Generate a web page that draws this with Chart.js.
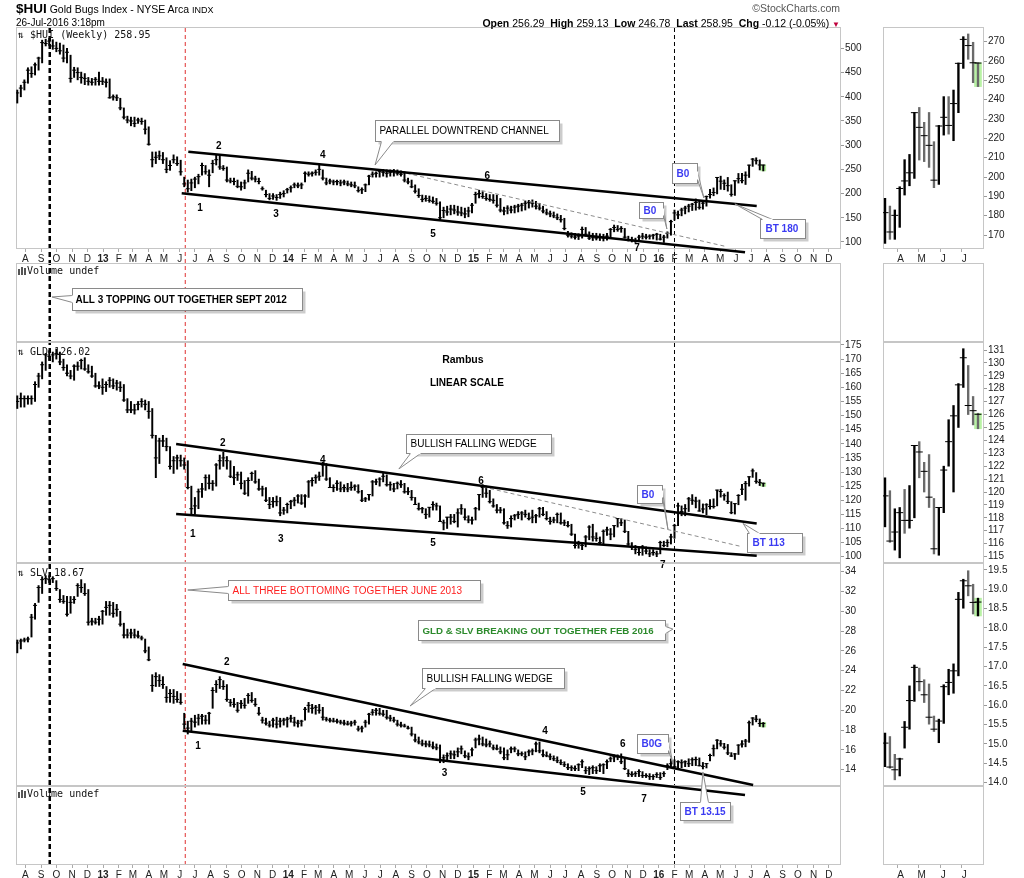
<!DOCTYPE html>
<html>
<head>
<meta charset="utf-8">
<title>$HUI Gold Bugs Index</title>
<script src="https://cdn.jsdelivr.net/npm/chart.js@4.4.1/dist/chart.umd.min.js"></script>
<style>
  html, body { margin: 0; padding: 0; background: #fff; }
  body { position: relative; width: 1024px; height: 878px; overflow: hidden;
         font-family: "Liberation Sans", Arial, sans-serif; color: #000; }
  canvas { position: absolute; }
  .txt { position: absolute; white-space: nowrap; line-height: 1; z-index: 5; }
  .mono { font-family: "DejaVu Sans Mono", monospace; font-size: 10px; color: #111; }
  .vi { display: inline-block; width: 2px; background: #555; margin-right: 1px; vertical-align: -1px; }
</style>
</head>
<body>

<div class="txt" style="left:16px;top:2px;font-size:10.5px"><b style="font-size:13.5px">$HUI</b> Gold Bugs Index - NYSE Arca <span style="font-size:9px">INDX</span></div>
<div class="txt" style="left:16px;top:18px;font-size:10px">26-Jul-2016 3:18pm</div>
<div class="txt" style="right:184px;top:3px;font-size:10.5px;color:#555">&copy;StockCharts.com</div>
<div class="txt" style="right:184px;top:18px;font-size:10.5px"><b>Open</b> 256.29 &nbsp;<b>High</b> 259.13 &nbsp;<b>Low</b> 246.78 &nbsp;<b>Last</b> 258.95 &nbsp;<b>Chg</b> -0.12 (-0.05%) <span style="color:#c0003c;font-size:8px">&#9660;</span></div>

<div class="txt mono" style="left:18px;top:30px">&#8645; $HUI (Weekly) 258.95</div>
<div class="txt mono" style="left:18px;top:266px"><span class="vi" style="height:6px"></span><span class="vi" style="height:8px"></span><span class="vi" style="height:7px"></span>Volume undef</div>
<div class="txt mono" style="left:18px;top:347px">&#8645; GLD 126.02</div>
<div class="txt mono" style="left:18px;top:568px">&#8645; SLV 18.67</div>
<div class="txt mono" style="left:18px;top:789px"><span class="vi" style="height:6px"></span><span class="vi" style="height:8px"></span><span class="vi" style="height:7px"></span>Volume undef</div>

<canvas id="guides" width="870" height="878" style="left:0;top:0;z-index:1"></canvas>
<canvas id="vol1" width="870" height="79" style="left:0;top:263px;z-index:2"></canvas>
<canvas id="vol2" width="870" height="92" style="left:0;top:786px;z-index:2"></canvas>
<canvas id="hui" width="870" height="236" style="left:0;top:27px;z-index:3"></canvas>
<canvas id="gld" width="870" height="235" style="left:0;top:336px;z-index:3"></canvas>
<canvas id="slv" width="870" height="276" style="left:0;top:557px;z-index:3"></canvas>

<canvas id="mhui" width="147" height="236" style="left:877px;top:27px;z-index:3"></canvas>
<canvas id="mvol1" width="147" height="79" style="left:877px;top:263px;z-index:2"></canvas>
<canvas id="mgld" width="147" height="227" style="left:877px;top:336px;z-index:3"></canvas>
<canvas id="mslv" width="147" height="229" style="left:877px;top:557px;z-index:3"></canvas>
<canvas id="mvol2" width="147" height="92" style="left:877px;top:786px;z-index:2"></canvas>

<script>
// weekly bars, first week starting 16-Jul-2012, last week 25-Jul-2016
const huiHigh = [
  414,424,435,460,462,470,482,517,519,521, 518,513,511,507,500,486,461,460,451,448,
  440,438,440,451,440,437,437,404,404,397, 377,360,358,358,356,356,352,338,286,286,
  288,285,274,268,280,276,269,234,228,230, 234,240,263,258,249,269,280,278,258,255,
  232,232,228,224,228,249,246,236,232,214, 207,200,200,198,203,206,211,216,222,222,
  222,245,245,245,249,261,249,232,230,228, 228,228,228,226,224,224,214,212,220,238,
  245,245,249,250,249,249,250,249,247,245, 232,228,218,210,197,196,195,193,190,183,
  172,174,176,176,174,172,170,172,180,203, 207,204,200,198,198,197,190,172,175,174,
  176,178,180,184,186,187,184,180,174,168, 164,162,158,155,149,122,119,118,117,131,
  130,121,118,118,117,116,118,128,135,134, 132,128,112,110,108,114,118,116,115,116,
  118,116,114,121,145,166,164,170,174,178, 180,189,185,183,195,209,211.7,233.4,236,228.3,
  233.4,218.3,226.7,241.6,241.6,245,259,272.6,274,269.7, 259.13
];
const huiLow = [
  387,400,414,428,440,445,455,470,505,506, 498,493,488,472,470,430,440,435,428,425,
  424,424,424,424,425,420,397,393,392,373, 354,346,340,338,345,343,323,300,255,262,
  270,262,243,248,263,258,238,214,203,206, 212,220,238,240,214,243,259,250,248,224,
  222,218,212,207,210,224,228,224,220,207, 193,187,188,186,190,193,201,203,212,212,
  210,224,236,236,238,238,228,218,220,218, 218,216,218,216,214,212,203,200,204,218,
  234,234,234,236,234,236,236,238,236,224, 220,212,201,192,183,184,182,180,176,145,
  150,155,156,158,155,154,150,152,160,180, 191,190,186,184,180,172,162,156,158,160,
  160,162,164,166,170,172,168,166,160,156, 152,150,146,141,125,110,108,106,105,108,
  112,105,103,104,103,102,104,111,121,122, 120,108,102,100,99,102,106,106,106,106,
  104,104,99,108,114,145,148,154,158,162, 165,165.7,167.8,167.8,174,190.7,195.5,199.3,208.8,208,
  205,194.5,196.2,221.7,222.2,218.8,233.3,256.2,260.9,248.8, 246.78
];
const huiClose = [
  408,418,430,455,448,466,480,512,510,515, 505,500,495,480,492,438,455,450,440,438,
  432,430,436,432,432,430,398,400,398,377, 358,352,350,345,352,349,333,302,270,275,
  278,270,250,258,270,262,245,220,210,222, 230,235,258,245,238,262,270,255,252,228,
  226,225,215,214,222,242,232,230,225,210, 198,190,195,192,198,200,208,212,218,216,
  218,242,240,242,244,250,232,222,226,224, 225,222,224,220,218,216,206,208,218,236,
  240,242,246,244,242,244,245,242,240,228, 224,214,205,196,188,190,186,184,180,150,
  165,162,168,166,162,160,158,164,176,198, 200,194,190,188,186,176,166,164,170,166,
  172,174,176,180,182,180,174,170,164,160, 158,154,150,146,128,114,112,110,112,126,
  116,108,110,108,110,108,112,126,130,126, 128,110,104,104,102,110,112,110,112,114,
  116,106,110,118,142,160,156,166,170,174, 178,181.6,171.6,180.2,194.1,198,202.2,233.3,225.7,221.4,
  216.4,198.4,226.4,230.9,226.7,238,258.8,271.2,268,259.1, 258.95
];

const gldHigh = [
  157,158,157,157,157,162,165,169,172,173, 172.5,173.5,172.5,170,168,166,168,169,170,170.5,
  168,167.5,165,162,163,162,163.5,163,162.5,162, 161,156,155,154,155,156,155.5,155,152.5,143,
  142,143,142,139,135.5,136,136,135,134,125, 121,124,126,129,129,127,133,136,137,135.5,
  134,132,130,130,127,128,130,130.5,127.5,125, 124.5,121,121,121.5,121,117.5,119,120,121,122,
  122,122,127,128,129,130,133.5,133,128,125.5, 127,126.5,125.5,126,126.5,125.5,125.5,123.5,121,122,
  127,127.5,128,129.5,129,126.5,126,126.5,127,126, 124.5,123.5,121,119,117.5,117,117.5,119.5,119,118,
  113,114,115,115,117,118.5,117,114.5,114,117.5, 122,125.5,125,123.5,120.5,118.5,117.5,117,112.5,114.5,
  115,116,116,116.5,115.5,116.5,115,117.5,117.5,116, 114,114,115.5,115.5,113,112.5,111.5,108,105.5,105,
  107.5,111,111.5,108.5,107,109.5,110.5,110,111,113.5, 113.5,113,109,105,104,103.5,104,103.5,102.5,102.5,
  102,105.5,105.5,106,108,111.5,119,118,118.5,121, 122,121.1,120.1,118.7,118.8,120.2,120.5,123.6,123.9,122.3,
  122.9,119.5,118.8,122,125.6,126.7,128.4,131.1,129.8,127.4, 126.1
];
const gldLow = [
  152.5,153,153,154,154,155,160,163,166,169.5, 169,170,168,166,164,163,162.5,166,166.5,166,
  165,163.5,160,159.5,157.5,158.5,160,159.5,159,158.5, 155,151,151,150.5,152,153,152,149,142,128,
  133,139,137.5,131,129.5,131,132,131,124,115, 115,117,121,123.5,124,123.5,125,131,132,131,
  128,125.5,127,124,122,121.5,127,126,123.5,121.5, 119.5,117,117.5,118,114.5,115,115.5,117,118,119,
  118.5,117.5,121,125,126,127,128.5,127,124.5,123, 123.5,123,123,123,123.5,123.5,122.5,119.5,119.5,120,
  121.5,125.5,125,126.5,125,123.5,123,124,124.5,122.5, 122,120,118.5,116.5,115.5,113.5,114,116.5,116.5,112.5,
  109.5,110,111.5,112,110.5,115,113,112,111.5,113, 116.5,121,121,119,117.5,115.5,115.5,111.5,110,110.5,
  113,113.5,113,114,113,112,112,114,114.5,113, 111.5,112,112,111.5,111,110.5,107.5,103,103,102.5,
  103.5,106,105.5,105.5,104.5,104.5,107.5,106,107,110.5, 111,108.5,104,102.5,101,100.5,100.5,101,100,100.5,
  100,101,103.5,103.5,104.5,106.5,111,114.5,114.5,116, 118.5,117.3,116.1,115.5,114.9,116.8,117.2,118,121.1,120,
  118.8,115.2,115.1,118.4,122,120,125,128.1,126,125.2, 124.9
];
const gldClose = [
  155,156,156,156,156,161,164,168,171.5,171, 171.5,172,169,167,165,164,167.5,167.5,169.5,166.5,
  165.5,164,160.5,160.5,160,161,162.5,160.5,161.5,160, 155.5,152,152,152,154,155,154,151.5,143,135,
  141,141,139,132,134,135,134,132.5,124.5,117, 118,123,124,128,126,126,132.5,134,135,134,
  128.5,128,129,126,122.5,127,129.5,126.5,124,124, 120,118.5,119.5,119.5,115.5,116.5,118.5,119.5,120,121.5,
  119,121.5,126.5,127,128,128.5,132.5,127.5,124.5,124.5, 126,124,124.5,124,124.5,125,123,120,120.5,122,
  126.5,126.5,127.5,128.5,125.5,125.5,124,126,125.5,123, 123,121,118.5,117,117,115,117.5,118.5,118,112.5,
  112,114,114,112.5,115.5,117,114,113,113,117, 122,124.5,122.5,119.5,118,116.5,116.5,112,111,113.5,
  114.5,115,115.5,115,113.5,114,114.5,117,115,113.5, 112.5,113,115,112,112,111,108,104,104.5,104,
  107,110.5,107,106.5,105,109,109.5,108,111,113.5, 112,109,104.5,103.5,102.5,101.5,103.5,102,101,101.5,
  101,105,104,105,107,111,118,116,117,120.5, 120,119.7,116.2,116.9,118.4,117.8,117.8,123.6,123.1,121.6,
  119.6,115.6,118.8,121.7,123.9,125.9,128.3,130.4,126.7,126.3, 126.02
];

const slvHigh = [
  27.1,27.2,27.3,27.4,29.7,30.8,32.6,33.5,33.6,33.6, 33.5,33.1,32.2,31.6,31.5,31.5,31.5,32.8,33.2,32.8,
  32.2,29.3,29.3,29.5,30.1,31.0,31.0,30.9,30.7,30.0, 28.8,28.2,28.2,28.2,28.0,27.5,27.2,26.4,23.6,23.8,
  23.6,23.4,22.4,22.1,22.1,21.9,21.7,19.7,18.9,19.2, 19.5,19.6,19.6,19.5,19.8,22.3,23.0,23.4,23.0,22.6,
  21.1,21.2,20.8,21.0,21.2,21.7,21.8,21.2,20.3,19.3, 19.2,18.9,19.2,19.3,19.2,19.2,19.3,19.5,19.3,19.0,
  19.0,20.3,20.8,20.6,20.5,20.6,20.3,19.3,19.2,19.2, 19.1,19.0,19.0,18.9,18.9,19.0,18.4,18.4,19.0,19.7,
  20.1,20.2,20.2,20.0,20.0,19.5,19.3,19.0,18.8,18.6, 18.4,18.3,17.6,17.3,17.0,16.9,16.9,16.8,16.6,16.5,
  15.5,15.7,15.9,15.9,16.2,16.4,15.9,15.7,16.2,17.2, 17.5,17.3,17.1,16.9,16.5,16.5,16.3,16.2,16.0,16.3,
  16.3,16.0,15.8,15.8,16.0,16.1,16.8,16.8,16.0,15.8, 15.6,15.4,15.3,15.0,14.8,14.6,14.4,14.4,14.6,15.0,
  14.3,14.3,14.4,14.3,14.6,14.6,15.0,15.3,15.5,15.5, 15.6,15.1,14.0,13.8,13.8,14.0,13.8,13.6,13.6,13.5,
  13.7,13.7,13.8,14.6,15.1,15.0,14.9,15.0,14.9,15.1, 15.2,15.28,15.19,14.73,14.63,15.58,16.5,17.04,16.96,16.66,
  16.55,15.72,15.64,16.53,16.93,17.07,18.92,19.26,19.48,19.13, 18.77
];
const slvLow = [
  25.8,26.2,26.9,26.9,27.4,29.2,30.9,31.8,32.8,32.9, 32.9,32.1,30.9,30.8,29.5,29.8,30.8,31.5,31.9,31.6,
  28.6,28.6,28.7,28.6,28.7,29.6,29.6,29.4,29.5,28.5, 27.3,27.3,27.3,27.3,27.3,27.1,25.8,25.0,21.9,22.4,
  22.4,22.2,20.8,20.8,20.7,20.8,20.6,18.1,17.6,17.9, 18.3,18.5,18.6,18.6,18.6,20.2,21.8,22.2,22.1,20.9,
  20.4,20.3,19.8,20.2,20.2,20.7,20.8,20.4,19.5,18.7, 18.5,18.3,18.3,18.2,18.3,18.5,18.3,18.8,18.4,18.3,
  18.4,19.0,19.8,19.7,19.6,19.7,19.0,18.9,18.8,18.8, 18.7,18.6,18.5,18.5,18.4,18.5,17.9,17.8,18.3,18.6,
  19.5,19.5,19.5,19.4,19.1,18.9,18.8,18.4,18.3,18.3, 18.1,17.4,16.8,16.6,16.4,16.3,16.3,16.1,16.0,14.7,
  14.7,14.9,15.1,15.1,15.3,15.6,15.2,15.0,15.4,16.2, 16.5,16.4,16.3,16.3,16.0,16.0,15.6,15.0,15.0,15.7,
  15.8,15.4,15.4,15.0,15.4,15.5,15.8,15.7,15.3,15.3, 15.0,14.9,14.7,14.5,14.3,14.0,13.9,13.9,13.9,14.2,
  13.6,13.5,13.6,13.6,13.8,13.6,14.1,14.8,14.8,15.0, 14.6,14.0,13.3,13.3,13.3,13.3,13.2,13.2,13.0,13.0,
  13.2,13.0,13.3,14.0,14.2,14.2,14.2,14.2,14.3,14.3, 14.4,14.41,14.37,14.07,14.17,14.89,15.38,16.1,16.37,16.07,
  15.51,15.32,15.03,15.53,16.27,16.31,16.76,18.51,18.83,18.36, 18.31
];
const slvClose = [
  26.8,27.0,27.1,27.2,29.4,30.6,32.4,33.2,33.3,33.2, 33.3,32.3,31.2,31.0,29.7,30.9,31.2,32.6,32.4,31.8,
  28.9,29.0,28.9,29.2,30.0,30.4,30.6,29.8,30.2,28.7, 27.6,27.6,27.8,27.6,27.5,27.3,26.0,25.1,22.5,23.4,
  23.0,22.6,21.3,21.7,21.4,21.1,20.8,18.6,18.2,18.9, 18.8,19.2,19.4,19.0,19.7,22.0,22.6,23.1,22.4,21.1,
  20.8,20.6,20.0,20.7,20.5,21.5,21.0,20.6,19.7,19.0, 18.7,18.5,19.0,18.6,18.9,19.0,19.1,19.2,18.8,18.7,
  18.9,20.1,20.5,20.2,20.3,20.0,19.3,19.1,19.0,18.9, 18.9,18.8,18.7,18.6,18.7,18.8,18.1,18.2,18.8,19.6,
  19.8,20.0,19.7,19.6,19.3,19.2,19.0,18.6,18.5,18.4, 18.2,17.6,17.0,16.8,16.6,16.6,16.5,16.3,16.2,15.0,
  15.2,15.4,15.6,15.5,15.8,16.1,15.4,15.3,16.0,17.0, 17.1,16.6,16.5,16.6,16.2,16.1,15.8,15.2,15.5,16.1,
  16.1,15.6,15.6,15.3,15.8,15.9,16.6,15.9,15.5,15.4, 15.3,15.1,14.9,14.7,14.5,14.2,14.2,14.1,14.5,14.8,
  13.9,14.1,14.2,13.9,14.4,14.5,14.8,15.1,15.3,15.3, 14.8,14.1,13.6,13.5,13.6,13.8,13.4,13.4,13.3,13.3,
  13.5,13.2,13.6,14.4,14.6,14.3,14.8,14.7,14.8,14.6, 15.0,15.02,14.4,14.33,14.61,15.43,16.12,16.98,16.61,16.27,
  15.69,15.38,15.59,16.48,16.59,16.89,18.74,19.22,19.09,18.66, 18.67
];

// axis tick labels
const monthLabels = ['A','S','O','N','D','13','F','M','A','M','J','J','A','S','O','N','D',
  '14','F','M','A','M','J','J','A','S','O','N','D','15','F','M','A','M','J','J','A','S','O','N','D',
  '16','F','M','A','M','J','J','A','S','O','N','D'];
const miniMonthLabels = ['A','M','J','J'];
const huiTicks = [100,150,200,250,300,350,400,450,500];
const gldTicks = [100,105,110,115,120,125,130,135,140,145,150,155,160,165,170,175];
const slvTicks = [14,16,18,20,22,24,26,28,30,32,34];
const miniHuiTicks = [170,180,190,200,210,220,230,240,250,260,270];
const miniGldTicks = [115,116,117,118,119,120,121,122,123,124,125,126,127,128,129,130,131];
const miniSlvTicks = [14.0,14.5,15.0,15.5,16.0,16.5,17.0,17.5,18.0,18.5,19.0,19.5];

const DAY = 86400000;
const AXIS_ZERO = Date.UTC(2012, 7, 1);
const dayOf = (y, m, d) => (Date.UTC(y, m, d) - AXIS_ZERO) / DAY;
const firstWeek = dayOf(2012, 6, 16);
const weekDays = huiClose.map((_, i) => firstWeek + 7 * i);
const monthDays = monthLabels.map((_, k) => dayOf(2012, 7 + k, 1));
const miniMonthDays = miniMonthLabels.map((_, k) => dayOf(2016, 3 + k, 1));
const guideDays = [dayOf(2012, 8, 18), dayOf(2013, 5, 12), dayOf(2016, 1, 1)];
const MINI = 20;

Chart.defaults.font.family = '"Liberation Sans", Arial, sans-serif';

const FONT = '"Liberation Sans", Arial, sans-serif';
const BLUE = '#3a3af2';

function drawCallout(ctx, c, xs, ys) {
  const L = Math.round(xs.getPixelForValue(c.x)) + 0.5;
  const T = Math.round(ys.getPixelForValue(c.y)) + 0.5;
  const W = c.w, H = c.h;
  const tx = xs.getPixelForValue(c.tipX), ty = ys.getPixelForValue(c.tipY);
  let b1, b2;
  if (c.side === 'bottom') { b1 = [L + c.at[0], T + H]; b2 = [L + c.at[1], T + H]; }
  else if (c.side === 'top') { b1 = [L + c.at[0], T]; b2 = [L + c.at[1], T]; }
  else if (c.side === 'left') { b1 = [L, T + c.at[0]]; b2 = [L, T + c.at[1]]; }
  else { b1 = [L + W, T + c.at[0]]; b2 = [L + W, T + c.at[1]]; }
  ctx.save();
  ctx.fillStyle = 'rgba(0,0,0,0.2)';
  ctx.fillRect(L + 3, T + 3, W, H);
  ctx.beginPath();
  ctx.moveTo(b1[0], b1[1]); ctx.lineTo(tx, ty); ctx.lineTo(b2[0], b2[1]); ctx.closePath();
  ctx.fillStyle = '#fff'; ctx.fill();
  ctx.strokeStyle = '#8a8a8a'; ctx.lineWidth = 1; ctx.stroke();
  ctx.fillRect(L, T, W, H);
  ctx.strokeRect(L, T, W, H);
  ctx.beginPath(); ctx.moveTo(b1[0], b1[1]); ctx.lineTo(b2[0], b2[1]);
  ctx.strokeStyle = '#fff'; ctx.lineWidth = 1.5; ctx.stroke();
  ctx.font = c.font || ('10px ' + FONT);
  ctx.fillStyle = c.color || '#000';
  ctx.textAlign = 'left'; ctx.textBaseline = 'middle';
  ctx.fillText(c.text, L + (c.pad || 4), T + H / 2 + 0.5);
  ctx.restore();
}

function framePlugin(notes) {
  return {
    id: 'frame',
    beforeDatasetsDraw(chart) {
      const { ctx, chartArea: a } = chart;
      ctx.save();
      ctx.strokeStyle = '#c6c6c6';
      ctx.lineWidth = 1;
      ctx.strokeRect(Math.round(a.left) + 0.5, Math.round(a.top) + 0.5,
        Math.round(a.right - a.left) - 1, Math.round(a.bottom - a.top) - 1);
      ctx.restore();
    },
    afterDatasetsDraw(chart) {
      if (!notes) return;
      const ctx = chart.ctx, xs = chart.scales.x, ys = chart.scales.y;
      (notes.callouts || []).forEach(c => drawCallout(ctx, c, xs, ys));
      (notes.texts || []).forEach(t => {
        ctx.save();
        ctx.font = t.font || ('bold 10px ' + FONT);
        ctx.fillStyle = '#000';
        ctx.textAlign = 'center'; ctx.textBaseline = 'middle';
        ctx.fillText(t.text, xs.getPixelForValue(t.x), ys.getPixelForValue(t.y));
        ctx.restore();
      });
    }
  };
}

function trend(points, dashed) {
  return {
    type: 'line', data: points, order: 0, clip: false,
    borderColor: dashed ? '#8c8c8c' : '#000', borderWidth: dashed ? 1 : 2.5,
    borderDash: dashed ? [4, 3] : [], pointRadius: 0, fill: false
  };
}

function ohlcSets(days, hi, lo, cl, mini) {
  const n = days.length;
  const barColor = mini ? cl.map((v, i) => (i > 0 && v < cl[i - 1]) ? '#6a6a6a' : '#000') : '#000';
  return [
    { type: 'bar', order: 3, data: [{ x: days[n - 1], y: [lo[n - 1], hi[n - 1]] }],
      backgroundColor: '#b8f2a4', barThickness: mini ? 7 : 5, grouped: false },
    { type: 'bar', order: 2, data: days.map((d, i) => ({ x: d, y: [lo[i], hi[i]] })),
      backgroundColor: barColor, barThickness: mini ? 1.7 : 1.3, grouped: false },
    { type: 'scatter', order: 1, data: days.map((d, i) => ({ x: d, y: cl[i] })),
      pointStyle: 'line', pointRadius: mini ? 3.5 : 2, borderColor: '#000', borderWidth: 1,
      pointHoverRadius: 0 }
  ];
}

function xScale(o) {
  return {
    type: 'linear', min: o.xmin, max: o.xmax, offset: false,
    display: !!o.xLabels,
    afterBuildTicks: s => { s.ticks = o.xTicks.map(v => ({ value: v })); },
    afterFit: s => {
      s.height = o.xLabels ? (o.xHeight || 14) : 0;
      s.paddingLeft = 0; s.paddingRight = 0;
    },
    grid: { offset: false, drawOnChartArea: false, tickLength: 3, color: '#aaa' },
    border: { display: false },
    ticks: {
      autoSkip: false, maxRotation: 0, minRotation: 0, padding: 1, color: '#222',
      labelOffset: o.labelOffset || 0,
      callback: (v, i) => (o.xLabels ? o.xLabels[i] : ''),
      font: c => ({ size: 10, weight: (o.xLabels && /\d/.test(o.xLabels[c.index])) ? 'bold' : 'normal' })
    }
  };
}

function yScale(o) {
  return {
    type: 'linear', position: 'right', min: o.ymin, max: o.ymax,
    display: !!o.yTicks,
    afterBuildTicks: s => { if (o.yTicks) s.ticks = o.yTicks.map(v => ({ value: v })); },
    afterFit: s => {
      s.width = o.yTicks ? o.yWidth : 0;
      s.paddingTop = 0; s.paddingBottom = 0;
    },
    grid: { drawOnChartArea: false, tickLength: 3, color: '#999' },
    border: { display: false },
    ticks: { autoSkip: false, padding: 1, color: '#222', font: { size: 10 },
      callback: v => (o.yDecimals ? v.toFixed(o.yDecimals) : v) }
  };
}

function panel(id, o) {
  return new Chart(document.getElementById(id), {
    type: 'bar',
    data: { datasets: o.datasets || [] },
    options: {
      responsive: false, animation: false, events: [],
      layout: { autoPadding: false, padding: o.pad },
      plugins: { legend: { display: false }, tooltip: { enabled: false } },
      scales: { x: xScale(o), y: yScale(o) }
    },
    plugins: [framePlugin(o.notes)]
  });
}

const MAIN_X = { xmin: -18.5, xmax: 1607.1, xTicks: monthDays };
const MINI_X = { xmin: 1318.1, xmax: 1462.6, xTicks: miniMonthDays, labelOffset: 3 };
const miniDays = weekDays.slice(-MINI);

// vertical marker lines across all main panels
new Chart(document.getElementById('guides'), {
  type: 'line',
  data: { datasets: guideDays.map((d, k) => ({
    data: [{ x: d, y: 0 }, { x: d, y: 1 }], pointRadius: 0,
    borderColor: k === 1 ? '#e03030' : '#000', borderWidth: k === 0 ? 2.5 : 1,
    borderDash: k === 0 ? [5, 3] : [4, 3]
  })) },
  options: {
    responsive: false, animation: false, events: [],
    layout: { autoPadding: false, padding: { left: 16, right: 29, top: 27, bottom: 13 } },
    plugins: { legend: { display: false }, tooltip: { enabled: false } },
    scales: {
      x: { type: 'linear', display: false, min: MAIN_X.xmin, max: MAIN_X.xmax },
      y: { display: false, min: 0, max: 1 }
    }
  }
});

panel('hui', Object.assign({}, MAIN_X, {
  xLabels: monthLabels, xHeight: 14,
  ymin: 85.5, ymax: 544.2, yTicks: huiTicks, yWidth: 29,
  pad: { left: 16, right: 0, top: 0, bottom: 0 },
  datasets: ohlcSets(weekDays, huiHigh, huiLow, huiClose, false).concat([
    trend([{ x: 321, y: 286.6 }, { x: 1441, y: 174.4 }]),
    trend([{ x: 308, y: 200.6 }, { x: 1418, y: 78.7 }]),
    trend([{ x: 751, y: 241.9 }, { x: 1382, y: 90.3 }], true)
  ]),
  notes: {
    texts: [
      { text: '1', x: 344, y: 170.2 }, { text: '2', x: 381, y: 298.3 }, { text: '3', x: 494, y: 157.9 },
      { text: '4', x: 586, y: 279.8 }, { text: '5', x: 803, y: 116.5 }, { text: '6', x: 910, y: 236.4 },
      { text: '7', x: 1205, y: 87.6 }
    ],
    callouts: [
      { text: 'PARALLEL DOWNTREND CHANNEL', x: 689, y: 352, w: 184, h: 21, tipX: 689, tipY: 259, side: 'bottom', at: [6, 18] },
      { text: 'B0', x: 1209, y: 182.6, w: 24, h: 16, tipX: 1264, tipY: 126.9, side: 'right', at: [6, 13], color: BLUE, font: 'bold 10px ' + FONT },
      { text: 'B0', x: 1274, y: 263, w: 25, h: 20, tipX: 1337, tipY: 190.9, side: 'right', at: [8, 16], color: BLUE, font: 'bold 10px ' + FONT },
      { text: 'BT 180', x: 1447, y: 147.5, w: 45, h: 19, tipX: 1398, tipY: 178.5, side: 'top', at: [2, 12], color: BLUE, font: 'bold 10px ' + FONT, pad: 5 }
    ]
  }
}));

panel('vol1', Object.assign({}, MAIN_X, {
  ymin: 0, ymax: 1, yWidth: 29,
  pad: { left: 16, right: 29, top: 0, bottom: 0 },
  notes: {
    callouts: [
      { text: 'ALL 3 TOPPING OUT TOGETHER SEPT 2012', x: 92, y: 0.684, w: 230, h: 22, tipX: 52.4, tipY: 0.57, side: 'left', at: [7, 14], font: 'bold 10px ' + FONT, pad: 3 }
    ]
  }
}));

panel('gld', Object.assign({}, MAIN_X, {
  ymin: 97.77, ymax: 176.06, yTicks: gldTicks, yWidth: 29,
  pad: { left: 16, right: 0, top: 6, bottom: 8 },
  datasets: ohlcSets(weekDays, gldHigh, gldLow, gldClose, false).concat([
    trend([{ x: 297, y: 139.9 }, { x: 1441, y: 111.8 }]),
    trend([{ x: 297, y: 115.1 }, { x: 1441, y: 100.3 }]),
    trend([{ x: 902, y: 124.7 }, { x: 1411, y: 103.6 }], true)
  ]),
  notes: {
    texts: [
      { text: '1', x: 330, y: 108.0 }, { text: '2', x: 389, y: 140.3 }, { text: '3', x: 503, y: 106.3 },
      { text: '4', x: 586, y: 134.3 }, { text: '5', x: 803, y: 104.9 }, { text: '6', x: 898, y: 126.8 },
      { text: '7', x: 1256, y: 97.1 },
      { text: 'Rambus', x: 862, y: 169.7, font: 'bold 10.5px ' + FONT },
      { text: 'LINEAR SCALE', x: 870, y: 161.5 }
    ],
    callouts: [
      { text: 'BULLISH FALLING WEDGE', x: 750, y: 143.5, w: 145, h: 19, tipX: 736, tipY: 131.1, side: 'bottom', at: [4, 14] },
      { text: 'B0', x: 1205, y: 125.4, w: 25, h: 18, tipX: 1266, tipY: 109.8, side: 'right', at: [5, 12], color: BLUE, font: 'bold 10px ' + FONT },
      { text: 'BT 113', x: 1422, y: 108.4, w: 55, h: 19, tipX: 1414, tipY: 111.8, side: 'top', at: [2, 12], color: BLUE, font: 'bold 10px ' + FONT, pad: 5 }
    ]
  }
}));

panel('slv', Object.assign({}, MAIN_X, {
  ymin: 12.35, ymax: 34.88, yTicks: slvTicks, yWidth: 29,
  pad: { left: 16, right: 0, top: 6, bottom: 47 },
  datasets: ohlcSets(weekDays, slvHigh, slvLow, slvClose, false).concat([
    trend([{ x: 310, y: 24.68 }, { x: 1434, y: 12.45 }]),
    trend([{ x: 310, y: 17.94 }, { x: 1418, y: 11.44 }])
  ]),
  notes: {
    texts: [
      { text: '1', x: 340, y: 16.32 }, { text: '2', x: 397, y: 24.9 }, { text: '3', x: 826, y: 13.64 },
      { text: '4', x: 1024, y: 17.84 }, { text: '5', x: 1099, y: 11.72 }, { text: '6', x: 1177, y: 16.57 },
      { text: '7', x: 1219, y: 11.04 }
    ],
    callouts: [
      { text: 'ALL THREE BOTTOMING TOGETHER JUNE 2013', x: 399, y: 33.16, w: 252, h: 20, tipX: 320, tipY: 32.15, side: 'left', at: [6, 13], color: '#ff1f1f' },
      { text: 'GLD & SLV BREAKING OUT TOGETHER FEB 2016', x: 774, y: 29.11, w: 247, h: 20, tipX: 1276, tipY: 28.2, side: 'right', at: [6, 13], color: '#2c8a2c', font: 'bold 9.7px ' + FONT },
      { text: 'BULLISH FALLING WEDGE', x: 781, y: 24.26, w: 142, h: 20, tipX: 758, tipY: 20.43, side: 'bottom', at: [3, 13] },
      { text: 'B0G', x: 1205, y: 17.6, w: 31, h: 19, tipX: 1276, tipY: 14.6, side: 'right', at: [8, 16], color: BLUE, font: 'bold 10px ' + FONT },
      { text: 'BT 13.15', x: 1290, y: 10.73, w: 50, h: 18, tipX: 1335, tipY: 13.77, side: 'top', at: [20, 28], color: BLUE, font: 'bold 10px ' + FONT }
    ]
  }
}));

panel('vol2', Object.assign({}, MAIN_X, {
  xLabels: monthLabels, xHeight: 13,
  ymin: 0, ymax: 1, yWidth: 29,
  pad: { left: 16, right: 29, top: 0, bottom: 0 }
}));

// right-hand mini panels: last 20 weeks enlarged
panel('mhui', Object.assign({}, MINI_X, {
  xLabels: miniMonthLabels, xHeight: 14,
  ymin: 162.8, ymax: 277.6, yTicks: miniHuiTicks, yWidth: 40,
  pad: { left: 6, right: 0, top: 0, bottom: 0 },
  datasets: ohlcSets(miniDays, huiHigh.slice(-MINI), huiLow.slice(-MINI), huiClose.slice(-MINI), true)
}));
panel('mvol1', Object.assign({}, MINI_X, {
  ymin: 0, ymax: 1, yWidth: 40, pad: { left: 6, right: 40, top: 0, bottom: 0 }
}));
panel('mgld', Object.assign({}, MINI_X, {
  ymin: 114.5, ymax: 131.62, yTicks: miniGldTicks, yWidth: 40,
  pad: { left: 6, right: 0, top: 6, bottom: 0 },
  datasets: ohlcSets(miniDays, gldHigh.slice(-MINI), gldLow.slice(-MINI), gldClose.slice(-MINI), true)
}));
panel('mslv', Object.assign({}, MINI_X, {
  ymin: 13.91, ymax: 19.68, yTicks: miniSlvTicks, yWidth: 40, yDecimals: 1,
  pad: { left: 6, right: 0, top: 6, bottom: 0 },
  datasets: ohlcSets(miniDays, slvHigh.slice(-MINI), slvLow.slice(-MINI), slvClose.slice(-MINI), true)
}));
panel('mvol2', Object.assign({}, MINI_X, {
  xLabels: miniMonthLabels, xHeight: 13,
  ymin: 0, ymax: 1, yWidth: 40, pad: { left: 6, right: 40, top: 0, bottom: 0 }
}));
</script>
</body>
</html>
